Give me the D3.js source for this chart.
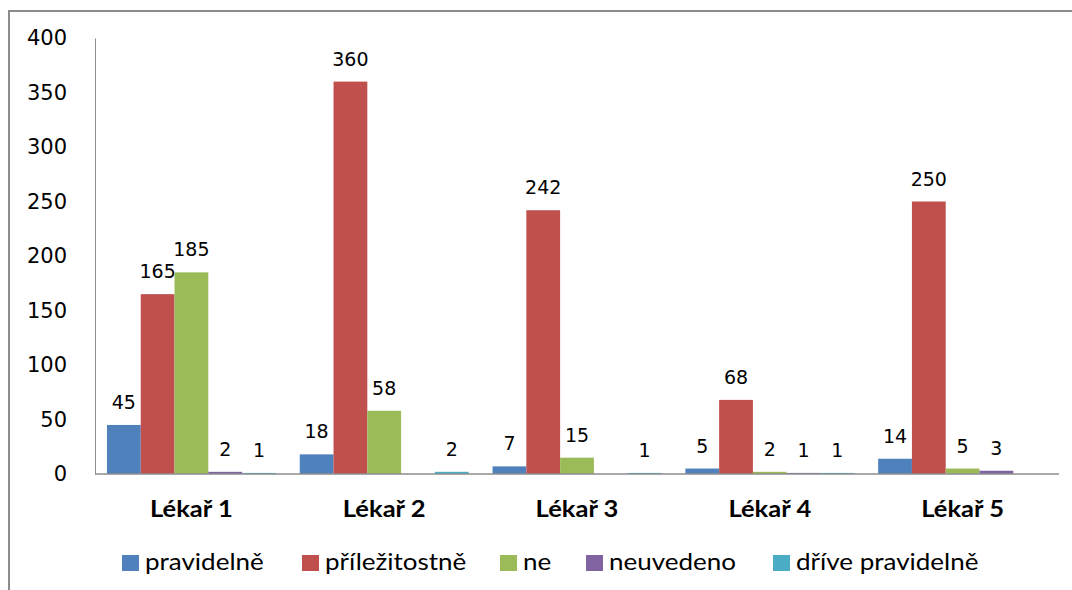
<!DOCTYPE html>
<html>
<head>
<meta charset="utf-8">
<script src="https://cdn.jsdelivr.net/npm/d3@7/dist/d3.min.js"></script>
<style>
  html, body { margin: 0; padding: 0; background: #fff; }
  svg { display: block; }
</style>
</head>
<body>
<svg id="chart" width="1072" height="590"></svg>
<script>
// Categories (doctors) and the answer series
const categories = ["Lékař 1", "Lékař 2", "Lékař 3", "Lékař 4", "Lékař 5"];
const seriesNames = ["pravidelně", "příležitostně", "ne", "neuvedeno", "dříve pravidelně"];
const seriesColors = ["#4F81BD", "#C0504D", "#9BBB59", "#8064A2", "#4BACC6"];

// Values per series, one entry per doctor (null = no answer recorded)
const pravidelne    = [45, 18, 7, 5, 14];
const prilezitostne = [165, 360, 242, 68, 250];
const ne            = [185, 58, 15, 2, 5];
const neuvedeno     = [2, null, null, 1, 3];
const drivePrav     = [1, 2, 1, 1, null];

const yTicks = [0, 50, 100, 150, 200, 250, 300, 350, 400];

const seriesValues = [pravidelne, prilezitostne, ne, neuvedeno, drivePrav];

const svg = d3.select("#chart");

// widen glyphs horizontally by factor k
function stretch(sel, k) {
  sel.each(function () {
    const w = this.getComputedTextLength();
    d3.select(this).attr("textLength", w * k).attr("lengthAdjust", "spacingAndGlyphs");
  });
}

// outer chart frame (partly off-canvas)
svg.append("rect")
  .attr("x", 9).attr("y", 11)
  .attr("width", 1100).attr("height", 620)
  .attr("fill", "none")
  .attr("stroke", "#8c8c8c")
  .attr("stroke-width", 2);

const plot = { left: 95, right: 1059, top: 38, bottom: 474 };

const x0 = d3.scaleBand()
  .domain(categories)
  .range([plot.left, plot.right])
  .paddingInner(0.124)
  .paddingOuter(0.062);

const x1 = d3.scaleBand()
  .domain(seriesNames)
  .range([0, x0.bandwidth()])
  .padding(0);

const y = d3.scaleLinear().domain([0, 400]).range([plot.bottom, plot.top]);

// y axis labels
const yAxis = d3.axisLeft(y).tickValues(yTicks).tickSize(0).tickPadding(28);
const gy = svg.append("g")
  .attr("transform", `translate(${plot.left},0)`)
  .call(yAxis);
gy.select(".domain").attr("stroke", "#8c8c8c").attr("stroke-width", 1);
gy.selectAll("text")
  .attr("font-family", "DejaVu Sans")
  .attr("font-size", 21)
  .attr("fill", "#000");

// bars
const groups = svg.append("g").selectAll("g")
  .data(categories)
  .join("g")
  .attr("transform", d => `translate(${x0(d)},0)`);

const cells = groups.selectAll("g.cell")
  .data((c, ci) => seriesNames.map((s, si) => ({ s, si, v: seriesValues[si][ci] })))
  .join("g")
  .attr("class", "cell");

cells.filter(d => d.v != null)
  .append("rect")
  .attr("x", d => x1(d.s))
  .attr("width", x1.bandwidth())
  .attr("y", d => y(d.v))
  .attr("height", d => y(0) - y(d.v))
  .attr("fill", d => seriesColors[d.si]);

cells.filter(d => d.v != null)
  .append("text")
  .attr("x", d => x1(d.s) + x1.bandwidth() / 2)
  .attr("y", d => y(d.v) - 16)
  .attr("text-anchor", "middle")
  .attr("font-family", "DejaVu Sans")
  .attr("font-size", 19)
  .attr("fill", "#000")
  .text(d => d.v);

// baseline
svg.append("line")
  .attr("x1", plot.left).attr("x2", plot.right)
  .attr("y1", y(0)).attr("y2", y(0))
  .attr("stroke", "#8c8c8c").attr("stroke-width", 1.5);

// category labels
svg.append("g").selectAll("text")
  .data(categories)
  .join("text")
  .attr("x", d => x0(d) + x0.bandwidth() / 2)
  .attr("y", 517)
  .attr("text-anchor", "middle")
  .attr("font-family", "Lato")
  .attr("font-weight", "bold")
  .attr("font-size", 22)
  .attr("fill", "#000")
  .text(d => d)
  .call(stretch, 1.16);

// legend
const legendX = [122, 302, 500, 586, 773];
const legend = svg.append("g").selectAll("g")
  .data(seriesNames)
  .join("g")
  .attr("transform", (d, i) => `translate(${legendX[i]},555)`);
legend.append("rect")
  .attr("width", 17).attr("height", 16)
  .attr("fill", (d, i) => seriesColors[i]);
legend.append("text")
  .attr("x", 23).attr("y", 15)
  .attr("font-family", "Lato")
  .attr("font-size", 23)
  .attr("fill", "#000")
  .text(d => d)
  .call(stretch, 1.13);
</script>
</body>
</html>
